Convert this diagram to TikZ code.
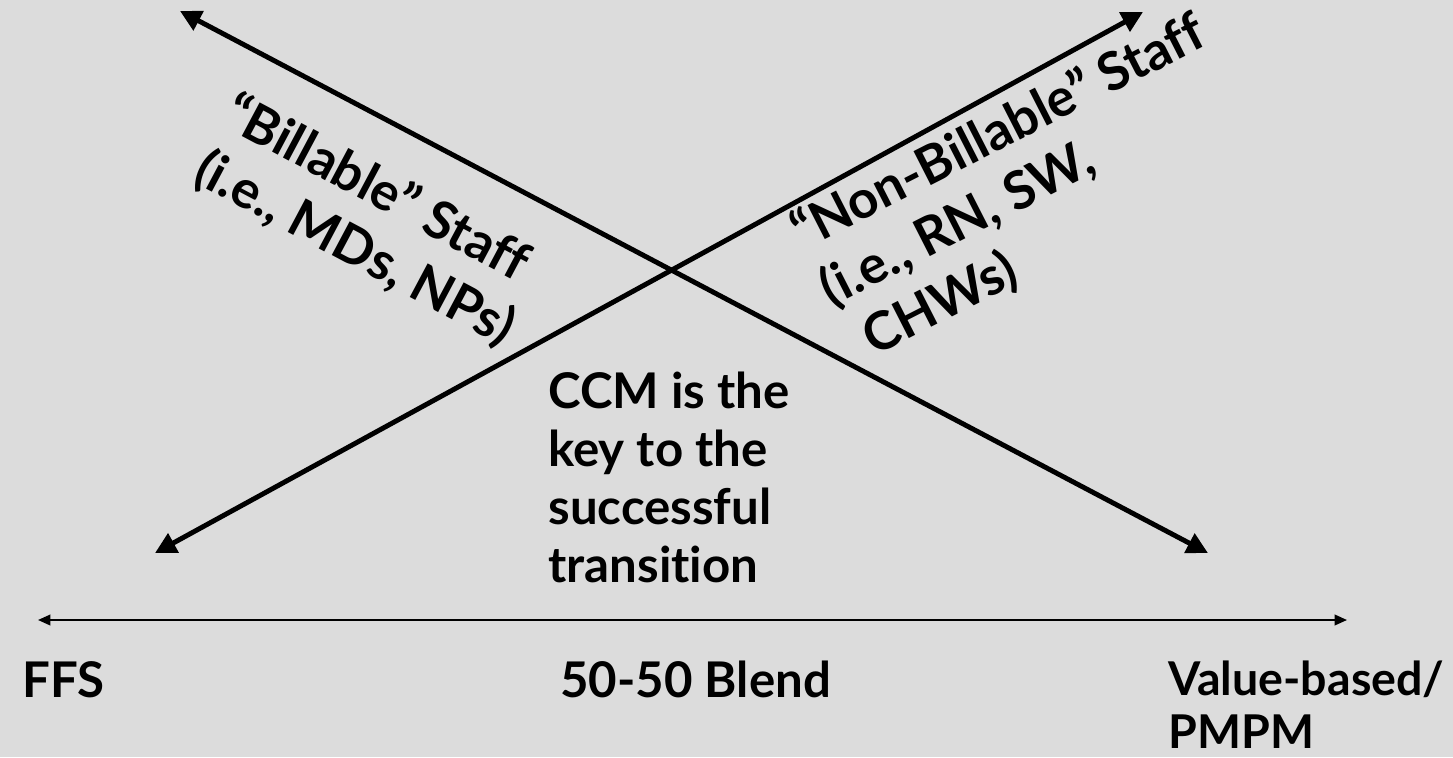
\documentclass[tikz,border=0pt]{standalone}
\usepackage{fontspec}
\setmainfont{Lato}[Ligatures={NoCommon,NoRare,NoContextual}]
\usetikzlibrary{arrows.meta,
                positioning}
\definecolor{slidegray}{RGB}{220,220,220}
\tikzset{
  staffline/.style={line width=2.8pt,{Triangle[length=12pt,width=12pt]}-{Triangle[length=12pt,width=12pt]}},
  payline/.style={line width=1.1pt,{Triangle[length=7pt,width=6pt]}-{Triangle[length=7pt,width=6pt]}},
  lbl/.style={inner sep=0pt,font=\bfseries\fontsize{28}{33}\selectfont,align=left},
  staff/.style={lbl,anchor=north west,font=\bfseries\fontsize{30}{36}\selectfont}
}

\begin{document}
\begin{tikzpicture}[x=0.02cm,y=0.02cm]
 \fill[slidegray] (0,0) rectangle (1453,-757);
 \useasboundingbox (0,0) rectangle (1453,-757);
 % arrow ends
 \coordinate (bill-l) at (180,-11);
 \coordinate (bill-r) at (1208,-553);
 \coordinate (non-l)  at (155,-553);
 \coordinate (non-r)  at (1143,-12);
 \coordinate (pay-l) at (38,-620);
 \coordinate (pay-r) at (1347,-620);
 \draw[staffline] (bill-l) -- (bill-r);
 \draw[staffline] (non-l) -- (non-r);
 \draw[payline] (pay-l) -- (pay-r);
 % staff labels
 \node[staff,rotate=-28] (billable) at (240,-88)
   {“Billable” Staff\\(i.e., MDs, NPs)};
 \node[staff,rotate=27] (nonbillable) at (784,-214)
   {“Non-Billable” Staff\\(i.e., RN, SW,\\\hspace*{0.3em}CHWs)};
 \node[lbl,anchor=north west] (ccm) at (548,-372)
   {CCM is the\\key to the\\successful\\transition};
 % payment models
 \node[lbl,anchor=base west] (ffs) at (22,-697) {FFS};
 \node[lbl,anchor=base west] (blend) at (560,-697) {50-50 Blend};
 \node[lbl,anchor=north west,font=\bfseries\fontsize{26.5}{30}\selectfont] (value) at (1168,-661)
   {Value-based/\\PMPM};
\end{tikzpicture}
\end{document}
